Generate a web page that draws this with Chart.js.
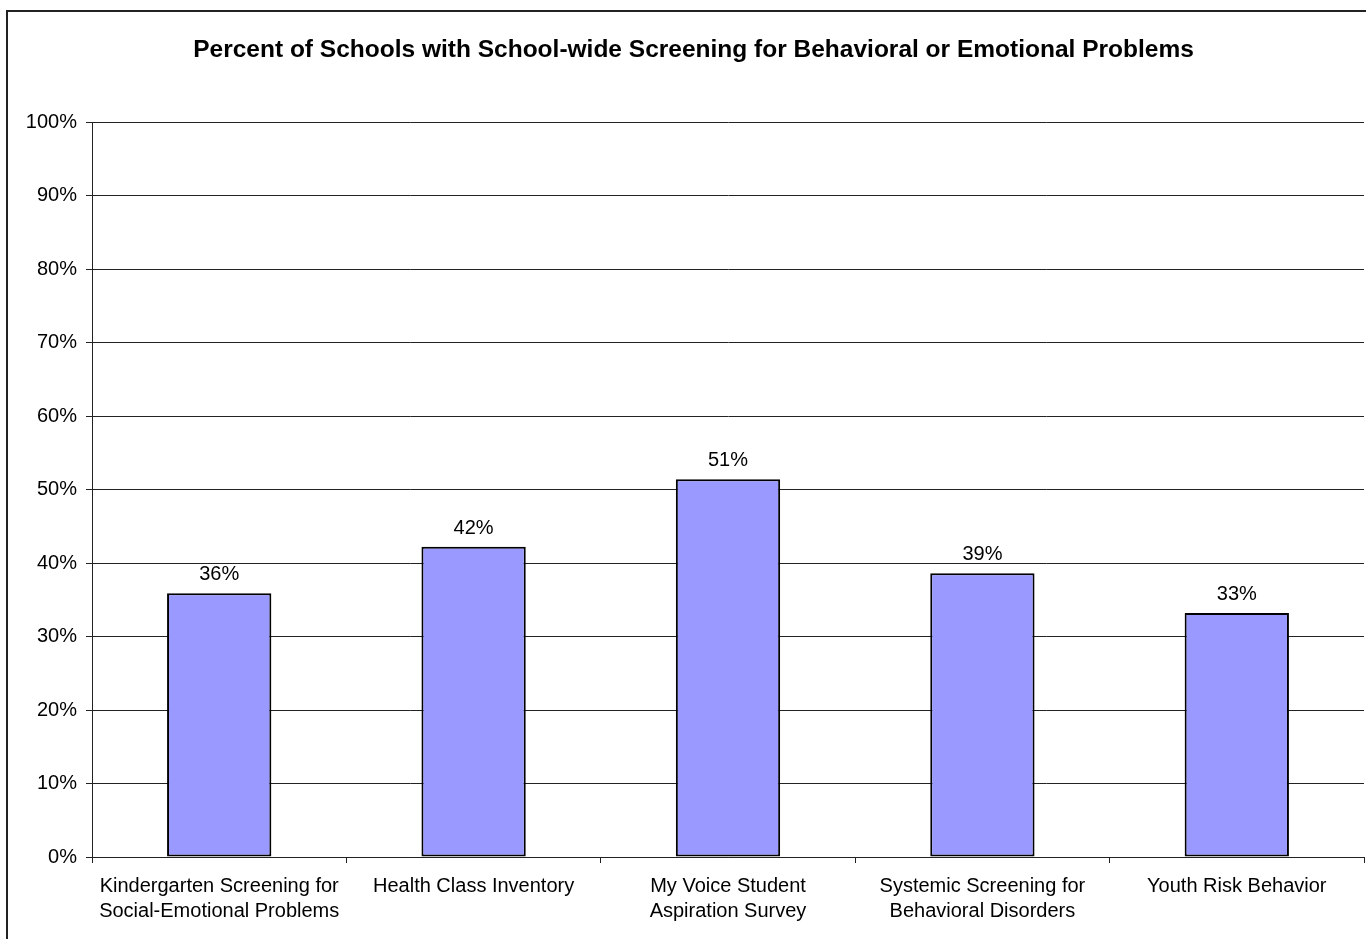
<!DOCTYPE html>
<html lang="en">

<head>
  <title>School-wide Screening</title>
  <meta charset="utf-8">
  <style>
    html, body { margin: 0; padding: 0; background: #fff; overflow: hidden; }
  </style>
</head>

<body>
  <canvas id="myChart" width="1366" height="939"></canvas>
  <script src="https://cdn.jsdelivr.net/npm/chart.js@4.4.1/dist/chart.umd.min.js"></script>
  <script>
    // data
    const categories = [
      ['Kindergarten Screening for', 'Social-Emotional Problems'],
      'Health Class Inventory',
      ['My Voice Student', 'Aspiration Survey'],
      ['Systemic Screening for', 'Behavioral Disorders'],
      'Youth Risk Behavior'
    ];
    const percentSchools = [35.9, 42.2, 51.4, 38.6, 33.2];
    const yTicks = [0, 10, 20, 30, 40, 50, 60, 70, 80, 90, 100];

    const fontFam = '"Liberation Sans", Arial, sans-serif';

    // frame round the whole chart + value labels above the bars
    const extras = {
      id: 'extras',
      beforeDraw(chart) {
        const c = chart.ctx;
        c.save();
        c.strokeStyle = '#222';
        c.lineWidth = 2;
        c.strokeRect(7, 11, 1400, 1000);
        c.restore();
      },
      afterDatasetsDraw(chart) {
        const c = chart.ctx;
        const meta = chart.getDatasetMeta(0);
        c.save();
        c.font = '20px ' + fontFam;
        c.fillStyle = '#000';
        c.textAlign = 'center';
        c.textBaseline = 'alphabetic';
        meta.data.forEach(function (bar, i) {
          c.fillText(Math.round(percentSchools[i]) + '%', bar.x, bar.y - 13);
        });
        c.restore();
      }
    };

    var ctx = document.getElementById('myChart');
    var myChart = new Chart(ctx, {
      type: 'bar',
      data: {
        labels: categories,
        datasets: [{
          label: 'Percent of Schools',
          data: percentSchools,
          backgroundColor: '#9999FF',
          borderColor: '#000',
          borderWidth: 2,
          borderSkipped: false,
          categoryPercentage: 1,
          barPercentage: 0.41
        }]
      },
      options: {
        responsive: false,
        animation: false,
        layout: { padding: { left: 23, right: 2, top: 0, bottom: 0 } },
        plugins: {
          legend: { display: false },
          tooltip: { enabled: false },
          title: {
            display: true,
            text: 'Percent of Schools with School-wide Screening for Behavioral or Emotional Problems',
            color: '#000',
            font: { family: fontFam, size: 24.5, weight: 'bold', lineHeight: 1.2 },
            padding: { top: 36, bottom: 56.6 }
          }
        },
        scales: {
          x: {
            grid: {
              offset: true,
              drawOnChartArea: false,
              color: '#222',
              tickLength: 6
            },
            border: { color: '#222', width: 1 },
            ticks: {
              color: '#000',
              font: { family: fontFam, size: 20, lineHeight: 1.25 },
              padding: 11,
              maxRotation: 0,
              autoSkip: false
            },
            afterFit(scale) { scale.height = 82; }
          },
          y: {
            min: 0,
            max: 100,
            afterBuildTicks(scale) {
              scale.ticks = yTicks.map(v => ({ value: v }));
            },
            grid: { color: '#222', tickLength: 6 },
            border: { color: '#222', width: 1 },
            ticks: {
              color: '#000',
              font: { family: fontFam, size: 20 },
              padding: 9,
              callback: v => v + '%'
            },
            afterFit(scale) { scale.width = 69; }
          }
        }
      },
      plugins: [extras]
    });
  </script>
</body>

</html>
